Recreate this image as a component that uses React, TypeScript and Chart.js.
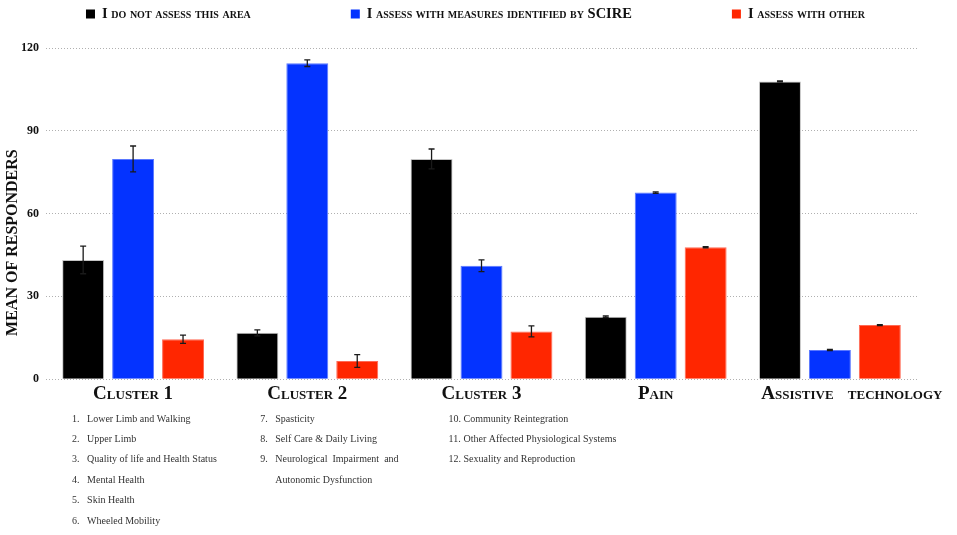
import { useRef, useEffect } from "react";
import { Chart, registerables } from "chart.js";

Chart.register(...registerables);

const SERIF = "'Liberation Serif', 'DejaVu Serif', serif";

const CATEGORIES = ["Cluster 1", "Cluster 2", "Cluster 3", "Pain", "Assistive   technology"];
const SERIES_LABELS = [
  "I do not assess this area",
  "I assess with measures identified by SCIRE",
  "I assess with other",
];
const NOT_ASSESSED = [43.2, 16.8, 79.8, 22.6, 107.9];
const NOT_ASSESSED_ERR = [5, 1.1, 3.6, 0.3, 0.2];
const SCIRE = [79.8, 114.5, 41.1, 67.6, 10.6];
const SCIRE_ERR = [4.7, 1.2, 2.1, 0.3, 0.2];
const OTHER = [14.5, 6.6, 17.3, 47.8, 19.6];
const OTHER_ERR = [1.5, 2.3, 2.0, 0.2, 0.2];
const Y_TICKS = [0, 30, 60, 90, 120];
const Y_TITLE = "MEAN OF RESPONDERS";

const COLORS = ["#000000", "#0433ff", "#ff2600"];
const BORDERS = ["#c4c4c4", "#5a78ff", "#ff6a55"];

// domain lists printed under the first three clusters
const DOMAINS = [
  ["Lower Limb and Walking", "Upper Limb", "Quality of life and Health Status", "Mental Health", "Skin Health", "Wheeled Mobility"],
  ["Spasticity", "Self Care & Daily Living", "Neurological  Impairment  and\nAutonomic Dysfunction"],
  ["Community Reintegration", "Other Affected Physiological Systems", "Sexuality and Reproduction"],
];
const DOMAIN_OFFSETS = [-61, -47, -33];
// the long last category label hangs to the right in the original
const LABEL_SHIFT = [0, 0, 0, 0, 22];

const ERRORS = [NOT_ASSESSED_ERR, SCIRE_ERR, OTHER_ERR];

const extras = {
  id: "extras",
  afterDatasetsDraw(chart: any) {
    const { ctx } = chart;
    const y = chart.scales.y;
    ctx.save();
    ctx.strokeStyle = "#1a1a1a";
    ctx.lineWidth = 1.3;
    ERRORS.forEach((errs, di) => {
      const meta = chart.getDatasetMeta(di);
      meta.data.forEach((bar: any, i: number) => {
        const v = chart.data.datasets[di].data[i] as number;
        const top = y.getPixelForValue(v + errs[i]);
        const bot = y.getPixelForValue(v - errs[i]);
        ctx.beginPath();
        ctx.moveTo(bar.x, top);
        ctx.lineTo(bar.x, bot);
        ctx.moveTo(bar.x - 3, top);
        ctx.lineTo(bar.x + 3, top);
        ctx.moveTo(bar.x - 3, bot);
        ctx.lineTo(bar.x + 3, bot);
        ctx.stroke();
      });
    });
    ctx.restore();
  },
  afterDraw(chart: any) {
    const { ctx, width, chartArea } = chart;
    const x = chart.scales.x;
    ctx.save();
    ctx.textBaseline = "middle";

    // legend
    ctx.font = `small-caps bold 14.5px ${SERIF}`;
    const box = 9;
    const gap = 7;
    const itemGap = 100;
    const widths = SERIES_LABELS.map((t) => ctx.measureText(t).width);
    const total = widths.reduce((a, w) => a + box + gap + w, 0) + itemGap * (SERIES_LABELS.length - 1);
    let cx = width / 2 - total / 2 - 3;
    const ly = 14;
    ctx.textAlign = "left";
    SERIES_LABELS.forEach((t, i) => {
      ctx.fillStyle = COLORS[i];
      ctx.fillRect(cx, ly - box / 2, box, box);
      ctx.fillStyle = "#111";
      ctx.fillText(t, cx + box + gap, ly);
      cx += box + gap + widths[i] + itemGap;
    });

    // category labels
    ctx.font = `small-caps bold 19px ${SERIF}`;
    ctx.textAlign = "center";
    CATEGORIES.forEach((c, i) => {
      ctx.fillText(c, x.getPixelForValue(i) + LABEL_SHIFT[i], chartArea.bottom + 15);
    });

    // y axis title, sits a little below the plot centre
    ctx.save();
    ctx.translate(13, (chartArea.top + chartArea.bottom) / 2 + 29);
    ctx.rotate(-Math.PI / 2);
    ctx.textAlign = "center";
    ctx.font = `bold 16px ${SERIF}`;
    ctx.fillStyle = "#111";
    ctx.fillText(Y_TITLE, 0, 0);
    ctx.restore();

    // domain lists
    ctx.font = `10px ${SERIF}`;
    ctx.fillStyle = "#333";
    ctx.textAlign = "left";
    let n = 1;
    DOMAINS.forEach((items, c) => {
      const left = x.getPixelForValue(c) + DOMAIN_OFFSETS[c];
      let row = 0;
      items.forEach((item) => {
        const lines = item.split("\n");
        ctx.fillText(`${n}.`, left, 419 + row * 20.4);
        lines.forEach((ln) => {
          ctx.fillText(ln, left + 15, 419 + row * 20.4);
          row++;
        });
        n++;
      });
    });
    ctx.restore();
  },
};

export default function App() {
  const canvasRef = useRef<HTMLCanvasElement>(null);
  const chartRef = useRef<Chart | null>(null);

  useEffect(() => {
    if (!canvasRef.current) return;
    chartRef.current?.destroy();

    const datasets = [NOT_ASSESSED, SCIRE, OTHER].map((data, i) => ({
      label: SERIES_LABELS[i],
      data,
      backgroundColor: COLORS[i],
      borderColor: BORDERS[i],
      borderWidth: 1,
      categoryPercentage: 0.86,
      barPercentage: 0.84,
    }));

    chartRef.current = new Chart(canvasRef.current, {
      type: "bar",
      data: { labels: CATEGORIES, datasets },
      plugins: [extras],
      options: {
        animation: false,
        responsive: true,
        maintainAspectRatio: false,
        layout: { padding: { top: 48, right: 40, bottom: 117, left: 14 } },
        plugins: {
          legend: { display: false },
          tooltip: { enabled: false },
        },
        scales: {
          x: {
            grid: { display: false },
            border: { display: false },
            ticks: {
              color: "rgba(0,0,0,0)",
              padding: 4,
              maxRotation: 0,
              autoSkip: false,
              font: { family: SERIF, size: 19, weight: "small-caps bold" as any },
            },
          },
          y: {
            min: 0,
            max: 120,
            afterBuildTicks: (s: any) => {
              s.ticks = Y_TICKS.map((v) => ({ value: v }));
            },
            border: { display: false, dash: [1, 2] },
            grid: {
              color: "#b0b0b0",
              lineWidth: 1,
              drawTicks: false,
            },
            ticks: {
              color: "#111",
              padding: 7,
              font: { family: SERIF, size: 12, weight: "bold" },
            },
          },
        },
      },
    });

    return () => {
      chartRef.current?.destroy();
      chartRef.current = null;
    };
  }, []);

  return (
    <div style={{ position: "fixed", left: 0, top: 0, width: "100vw", height: "100vh", background: "#fff" }}>
      <canvas ref={canvasRef} />
    </div>
  );
}
